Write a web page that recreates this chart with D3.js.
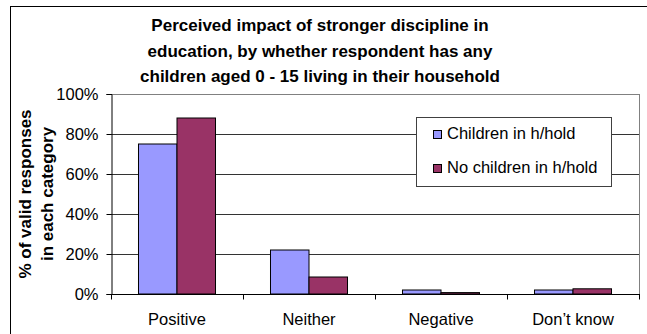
<!DOCTYPE html>
<html>
<head>
<meta charset="utf-8">
<script src="https://cdn.jsdelivr.net/npm/d3@7"></script>
<style>
  body { margin: 0; background: #fff; }
  text { font-family: Arial, "Liberation Sans", sans-serif; fill: #000; }
</style>
</head>
<body>
<svg id="chart" width="647" height="334"></svg>
<script>
// data
var categories = ["Positive", "Neither", "Negative", "Don\u2019t know"];
var seriesNames = ["Children in h/hold", "No children in h/hold"];
var withChildren = [75, 22, 2, 2];
var noChildren = [88, 8.5, 0.7, 2.6];
var yTicks = [0, 20, 40, 60, 80, 100];
var titleLines = ["Perceived impact of stronger discipline in",
                  "education, by whether respondent has any",
                  "children aged 0 - 15 living in their household"];
var yTitleLines = ["% of valid responses", "in each category"];
var colors = ["#9999FF", "#993366"];

var svg = d3.select("#chart");
var plot = {left: 111, right: 639, top: 94, bottom: 294};

// outer chart frame (cropped at right / bottom in the original)
svg.append("rect")
  .attr("x", 10.5).attr("y", 6.5)
  .attr("width", 700).attr("height", 400)
  .attr("fill", "#fff").attr("stroke", "#000").attr("stroke-width", 1);

var x = d3.scaleBand().domain(categories).range([plot.left, plot.right]).padding(0);
var x1 = d3.scaleBand().domain(seriesNames).range([0, x.bandwidth()])
  .paddingInner(0).paddingOuter(0.714);
var y = d3.scaleLinear().domain([0, 100]).range([plot.bottom, plot.top]);

// gridlines
svg.append("g")
  .selectAll("line")
  .data(yTicks.filter(d => d > 0))
  .enter().append("line")
  .attr("x1", plot.left).attr("x2", plot.right)
  .attr("y1", d => Math.round(y(d)) + 0.5).attr("y2", d => Math.round(y(d)) + 0.5)
  .attr("stroke", d => d == 100 ? "#808080" : "#333")
  .attr("stroke-width", 1);

// right border of plot area
svg.append("line")
  .attr("x1", plot.right + 0.5).attr("x2", plot.right + 0.5)
  .attr("y1", plot.top).attr("y2", plot.bottom)
  .attr("stroke", "#808080");

// bars
var rows = categories.map((c, i) => ({cat: c, vals: [withChildren[i], noChildren[i]]}));
svg.append("g")
  .selectAll("g")
  .data(rows)
  .enter().append("g")
  .attr("transform", d => "translate(" + x(d.cat) + ",0)")
  .selectAll("rect")
  .data(d => d.vals.map((v, j) => ({name: seriesNames[j], v: v, j: j})))
  .enter().append("rect")
  .attr("x", d => x1(d.name))
  .attr("y", d => y(d.v))
  .attr("width", x1.bandwidth())
  .attr("height", d => plot.bottom - y(d.v))
  .attr("fill", d => colors[d.j])
  .attr("stroke", "#000")
  .attr("stroke-width", 1);

// y axis
var yAxis = svg.append("g")
  .attr("transform", "translate(" + (plot.left + 0.5) + ",0)")
  .call(d3.axisLeft(y).tickValues(yTicks).tickSize(5).tickPadding(8)
    .tickFormat(d => d + "%"));
yAxis.selectAll("text").style("font-size", "16.5px")
  .attr("font-family", "Arial, 'Liberation Sans', sans-serif");
yAxis.select(".domain").attr("stroke", "#000");
yAxis.selectAll(".tick line").attr("stroke", "#000");

// x axis with ticks on category boundaries
var xAxis = svg.append("g")
  .attr("transform", "translate(0," + (plot.bottom + 0.5) + ")");
xAxis.append("line")
  .attr("x1", plot.left).attr("x2", plot.right + 1)
  .attr("stroke", "#000");
var bounds = categories.map(c => x(c)).concat([plot.right]);
xAxis.selectAll(".bt")
  .data(bounds)
  .enter().append("line")
  .attr("class", "bt")
  .attr("x1", d => Math.round(d) + 0.5).attr("x2", d => Math.round(d) + 0.5)
  .attr("y1", 0).attr("y2", 5)
  .attr("stroke", "#000");
xAxis.selectAll(".cl")
  .data(categories)
  .enter().append("text")
  .attr("class", "cl")
  .attr("x", d => x(d) + x.bandwidth() / 2)
  .attr("y", 30)
  .attr("text-anchor", "middle")
  .style("font-size", "16.5px")
  .text(d => d);

// title
var title = svg.append("text")
  .attr("x", 320)
  .attr("y", 31)
  .attr("text-anchor", "middle")
  .style("font-size", "17px")
  .style("font-weight", "bold");
title.selectAll("tspan")
  .data(titleLines)
  .enter().append("tspan")
  .attr("x", 320)
  .attr("dy", (d, i) => i == 0 ? 0 : 25.5)
  .text(d => d);

// y axis title
var yt = svg.append("text")
  .attr("transform", "translate(31,194) rotate(-90)")
  .attr("text-anchor", "middle")
  .style("font-size", "17px")
  .style("font-weight", "bold");
yt.selectAll("tspan")
  .data(yTitleLines)
  .enter().append("tspan")
  .attr("x", 0)
  .attr("dy", (d, i) => i == 0 ? 0 : 21.5)
  .text(d => d);

// legend
var legend = svg.append("g").attr("transform", "translate(416,117)");
legend.append("rect")
  .attr("x", 0.5).attr("y", 0.5)
  .attr("width", 195).attr("height", 69)
  .attr("fill", "#fff").attr("stroke", "#404040");
var li = legend.selectAll(".li")
  .data(seriesNames)
  .enter().append("g")
  .attr("class", "li")
  .attr("transform", (d, i) => "translate(0," + (i * 34) + ")");
li.append("rect")
  .attr("x", 17.5).attr("y", 13.5)
  .attr("width", 8).attr("height", 8)
  .attr("fill", (d, i) => colors[i])
  .attr("stroke", "#000");
li.append("text")
  .attr("x", 31).attr("y", 22)
  .style("font-size", "16.5px")
  .text(d => d);
</script>
</body>
</html>
